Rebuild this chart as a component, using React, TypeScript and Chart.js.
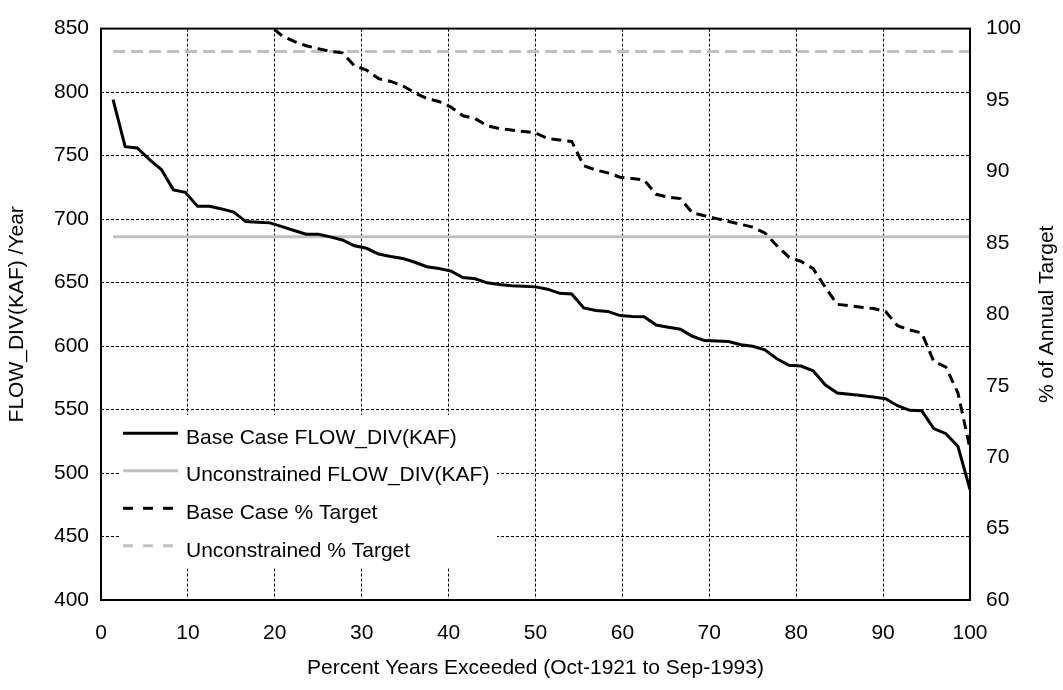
import { useEffect, useRef } from 'react';
import { Chart, registerables } from 'chart.js';

Chart.register(...registerables);

const FONT = '"Liberation Sans", Arial, Helvetica, sans-serif';

// Exceedance ranking: 72 water years, rank r plotted at r / 72 * 100 percent.
const YEAR_COUNT = 72;

// Annual diversion (KAF), sorted from largest to smallest.
const baseCaseFlow = [
  794, 757, 756, 747, 739, 723, 721, 710, 710, 708,
  705.5, 698, 697.5, 697, 694, 691, 688, 688, 686, 683.5,
  679, 677, 672.5, 670.5, 669, 666, 662.5, 661, 659, 654,
  653, 649.8, 648.5, 647.5, 647, 646.6, 644.8, 641.5, 641, 630,
  628, 627.3, 624, 623.3, 623, 616.5, 614.8, 613.2, 607.7, 604.3,
  604, 603.6, 601, 599.8, 597, 590, 584.8, 584.2, 580.5, 569.5,
  563, 562, 561, 559.8, 558.5, 553, 549.4, 549, 535, 531,
  521, 487,
];

// Unconstrained diversion is the same every year.
const unconstrainedFlow = 686;

// Percent of the annual target delivered, same ranking.
const baseCasePctTarget = [
  113.9, 108.6, 108.5, 107.2, 106.0, 103.7, 103.4, 101.9, 101.9, 101.6,
  101.2, 100.6, 100.5, 100.2, 99.5, 99.1, 98.8, 98.6, 98.4, 98.3,
  97.4, 97.1, 96.5, 96.3, 96.0, 95.5, 95.1, 94.9, 94.5, 93.9,
  93.7, 93.2, 93.0, 92.9, 92.8, 92.7, 92.3, 92.2, 92.1, 90.4,
  90.1, 89.9, 89.6, 89.5, 89.4, 88.4, 88.2, 88.1, 87.1, 86.9,
  86.7, 86.5, 86.3, 86.1, 85.7, 84.8, 84.0, 83.7, 83.2, 81.9,
  80.7, 80.6, 80.5, 80.4, 80.2, 79.2, 78.9, 78.7, 76.7, 76.3,
  74.5, 70.6,
];

const unconstrainedPctTarget = 98.4;

const seriesLabels = [
  'Base Case FLOW_DIV(KAF)',
  'Unconstrained FLOW_DIV(KAF)',
  'Base Case % Target',
  'Unconstrained % Target',
];

const xTitle = 'Percent Years Exceeded (Oct-1921 to Sep-1993)';
const yTitle = 'FLOW_DIV(KAF) /Year';
const y1Title = '% of Annual Target';

const flowTicks = { min: 400, max: 850, step: 50 };
const pctTicks = { min: 60, max: 100, step: 5 };
const xTicks = { min: 0, max: 100, step: 10 };

const percentExceeded = baseCaseFlow.map((_, i) => ((i + 1) / YEAR_COUNT) * 100);
const toPoints = (vals: number[]) => vals.map((y, i) => ({ x: percentExceeded[i], y }));
const flat = (v: number) => percentExceeded.map((x) => ({ x, y: v }));

// Framed plot area, boxed legend in the lower-left and the right-hand title.
const framePlugin = {
  id: 'frameAndLegend',
  afterDatasetsDraw(chart: any) {
    const { ctx } = chart;
    ctx.save();
    ctx.fillStyle = '#ffffff';
    ctx.fillRect(120, 415, 377, 153);
    chart.data.datasets.forEach((ds: any, i: number) => {
      const lineY = 433.3 + i * 37.5;
      const textY = 443.8 + i * 37.6;
      ctx.beginPath();
      ctx.setLineDash(ds.legendDash || []);
      ctx.strokeStyle = ds.borderColor;
      ctx.lineWidth = ds.borderWidth;
      ctx.lineCap = 'butt';
      ctx.moveTo(123, lineY);
      ctx.lineTo(178, lineY);
      ctx.stroke();
      ctx.setLineDash([]);
      ctx.fillStyle = '#000';
      ctx.font = `21px ${FONT}`;
      ctx.textAlign = 'left';
      ctx.textBaseline = 'alphabetic';
      ctx.fillText(ds.label, 186, textY);
    });
    ctx.restore();
  },
  afterDraw(chart: any) {
    const { ctx, chartArea } = chart;
    ctx.save();
    ctx.strokeStyle = '#000';
    ctx.lineWidth = 2;
    ctx.setLineDash([]);
    ctx.strokeRect(
      chartArea.left,
      chartArea.top,
      chartArea.right - chartArea.left,
      chartArea.bottom - chartArea.top
    );
    ctx.translate(1047, (chartArea.top + chartArea.bottom) / 2);
    ctx.rotate(-Math.PI / 2);
    ctx.fillStyle = '#000';
    ctx.font = `21px ${FONT}`;
    ctx.textAlign = 'center';
    ctx.textBaseline = 'middle';
    ctx.fillText(y1Title, 0, 0);
    ctx.restore();
  },
};

export default function App() {
  const canvasRef = useRef<HTMLCanvasElement | null>(null);

  useEffect(() => {
    if (!canvasRef.current) return;
    Chart.defaults.font.family = FONT;
    Chart.defaults.color = '#000';

    const gridStyle = { color: '#000', lineWidth: 1, drawTicks: false };
    const borderStyle = { display: false, dash: [3, 2] };

    const chart = new Chart(canvasRef.current, {
      type: 'line',
      data: {
        datasets: [
          {
            label: seriesLabels[0],
            data: toPoints(baseCaseFlow),
            borderColor: '#000000',
            borderWidth: 3,
            pointRadius: 0,
            yAxisID: 'y',
          },
          {
            label: seriesLabels[1],
            data: flat(unconstrainedFlow),
            borderColor: '#c0c0c0',
            borderWidth: 3,
            pointRadius: 0,
            yAxisID: 'y',
          },
          {
            label: seriesLabels[2],
            data: toPoints(baseCasePctTarget),
            borderColor: '#000000',
            borderWidth: 3,
            borderDash: [10, 6],
            legendDash: [10, 10],
            pointRadius: 0,
            yAxisID: 'y1',
          },
          {
            label: seriesLabels[3],
            data: flat(unconstrainedPctTarget),
            borderColor: '#c0c0c0',
            borderWidth: 3,
            borderDash: [12, 6],
            legendDash: [10, 10],
            pointRadius: 0,
            yAxisID: 'y1',
          },
        ] as any,
      },
      options: {
        animation: false,
        responsive: true,
        maintainAspectRatio: false,
        devicePixelRatio: 1,
        layout: { padding: { top: 18, left: 0, right: 0, bottom: 0 } },
        plugins: {
          legend: { display: false },
          tooltip: { enabled: false },
        },
        elements: { line: { tension: 0, fill: false } },
        scales: {
          x: {
            type: 'linear',
            position: 'bottom',
            min: xTicks.min,
            max: xTicks.max,
            afterFit: (s: any) => {
              s.height = 90;
            },
            ticks: {
              stepSize: xTicks.step,
              font: { size: 21 },
              padding: 21,
              maxRotation: 0,
              autoSkip: false,
            },
            grid: gridStyle,
            border: borderStyle,
            title: {
              display: true,
              text: xTitle,
              font: { size: 21 },
              padding: { top: 0, bottom: 9 },
            },
          },
          y: {
            type: 'linear',
            position: 'left',
            min: flowTicks.min,
            max: flowTicks.max,
            afterFit: (s: any) => {
              s.width = 101;
            },
            ticks: { stepSize: flowTicks.step, font: { size: 21 }, padding: 12 },
            grid: gridStyle,
            border: borderStyle,
            title: {
              display: true,
              text: yTitle,
              font: { size: 21 },
              padding: { top: 5, bottom: 0 },
            },
          },
          y1: {
            type: 'linear',
            position: 'right',
            min: pctTicks.min,
            max: pctTicks.max,
            afterFit: (s: any) => {
              s.width = 93;
            },
            ticks: { stepSize: pctTicks.step, font: { size: 21 }, padding: 16 },
            grid: { drawOnChartArea: false, drawTicks: false },
            border: { display: false },
          },
        },
      } as any,
      plugins: [framePlugin],
    });

    return () => chart.destroy();
  }, []);

  return (
    <div style={{ position: 'absolute', left: 0, top: 0, width: 1063, height: 690, background: '#fff' }}>
      <canvas ref={canvasRef} />
    </div>
  );
}
